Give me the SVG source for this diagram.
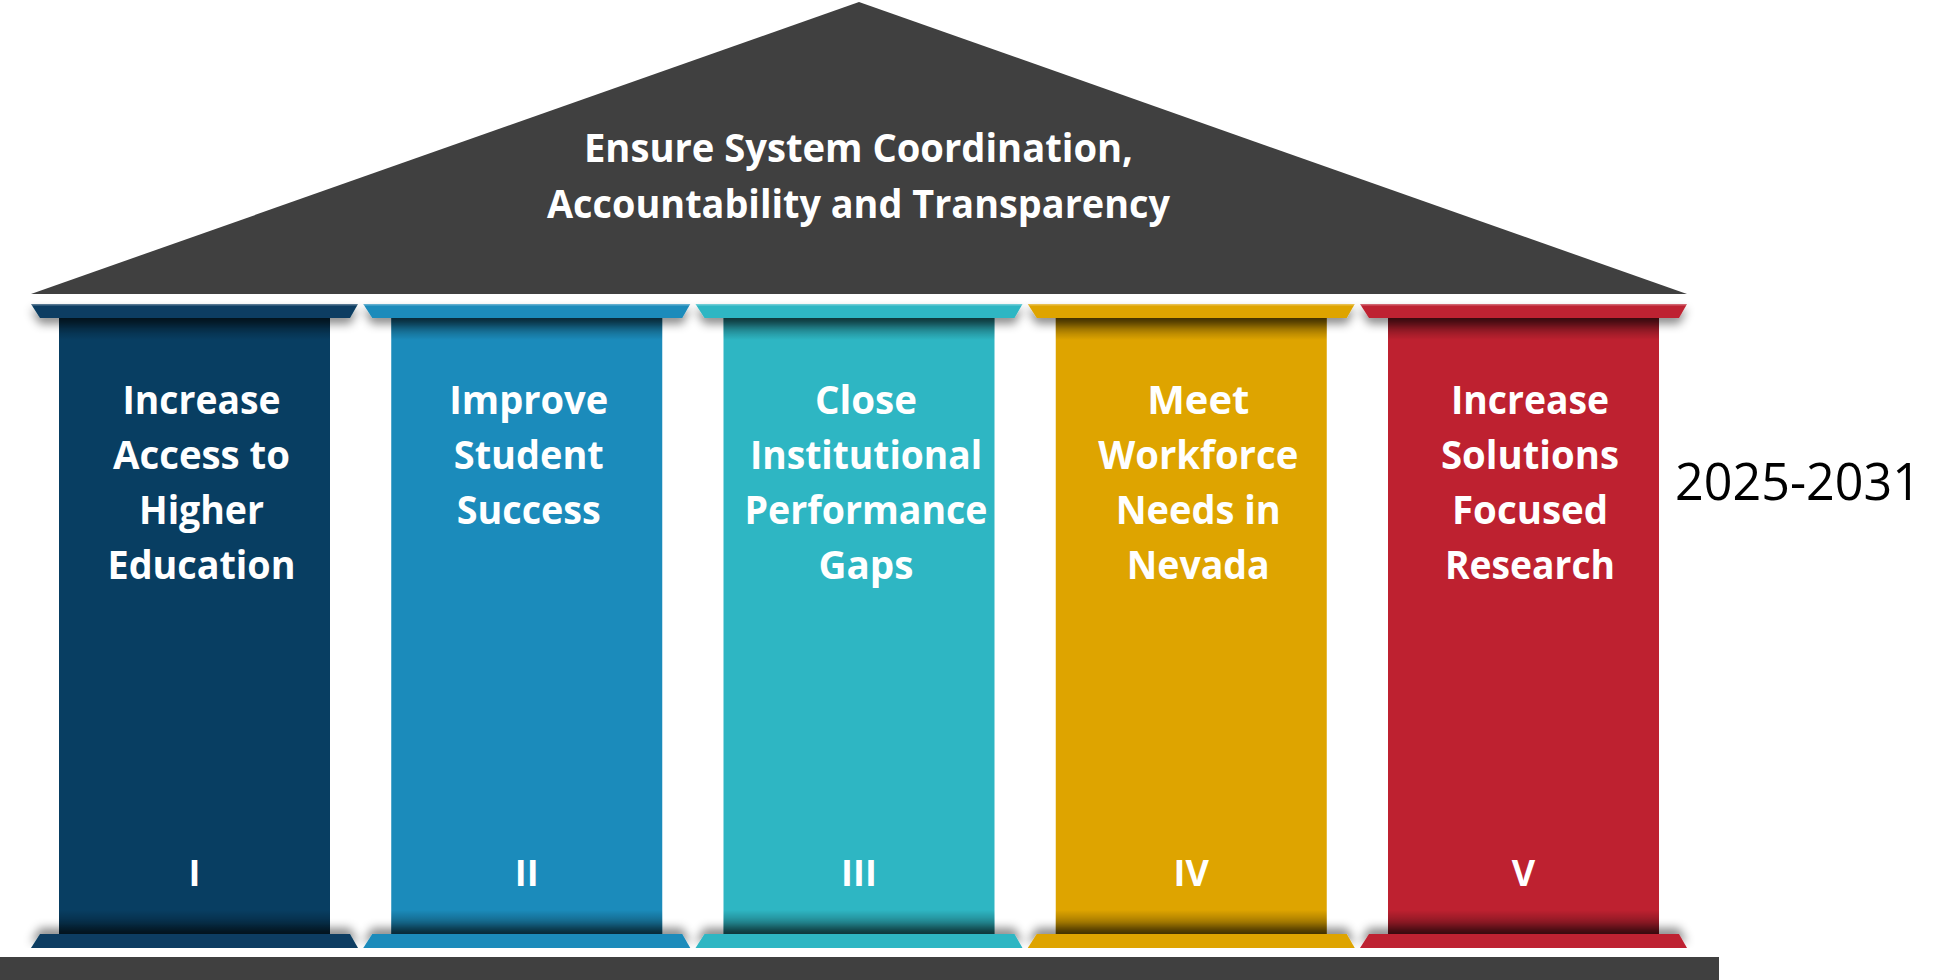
<svg xmlns="http://www.w3.org/2000/svg" width="1935" height="980" viewBox="0 0 1935 980">
<defs>
<style>
.t{font-family:"Open Sans","Noto Sans",sans-serif;font-weight:700;fill:#fff;text-anchor:middle}
.p{font-size:40px}
.n{font-size:36px}
.ttl{font-size:40px}
.yr{font-family:"Open Sans","Noto Sans",sans-serif;font-weight:400;font-size:52px;fill:#000}
.c1{fill:#083e62}.c2{fill:#1b8bbb}.c3{fill:#2eb6c3}.c4{fill:#dea400}.c5{fill:#be2130}
.hl{stroke:#fff;stroke-opacity:.3;stroke-width:1.5}
</style>
<linearGradient id="gTop" x1="0" y1="0" x2="0" y2="1">
<stop offset="0" stop-color="#000" stop-opacity=".5"/>
<stop offset="1" stop-color="#000" stop-opacity="0"/>
</linearGradient>
<linearGradient id="gBot" x1="0" y1="0" x2="0" y2="1">
<stop offset="0" stop-color="#000" stop-opacity="0"/>
<stop offset="1" stop-color="#000" stop-opacity=".5"/>
</linearGradient>
<filter id="shDown" x="-10%" y="-100%" width="120%" height="400%">
<feDropShadow dx="0" dy="6" stdDeviation="5" flood-color="#000" flood-opacity=".45"/>
</filter>
<filter id="shUp" x="-10%" y="-300%" width="120%" height="400%">
<feDropShadow dx="0" dy="-6" stdDeviation="5" flood-color="#000" flood-opacity=".45"/>
</filter>
</defs>
<rect width="1935" height="980" fill="#fff"/>

<g id="roof">
<polygon points="31,294 859,2 1687,294" fill="#404040"/>
<text class="t ttl" x="858.5" y="162" textLength="549" lengthAdjust="spacingAndGlyphs">Ensure System Coordination,</text>
<text class="t ttl" x="858.5" y="218" textLength="623" lengthAdjust="spacingAndGlyphs">Accountability and Transparency</text>
</g>

<g id="pillar1" transform="translate(31,0)">
<rect class="c1" x="28" y="318" width="271" height="616"/>
<rect x="28" y="318" width="271" height="22" fill="url(#gTop)"/>
<rect x="28" y="910" width="271" height="24" fill="url(#gBot)"/>
<polygon class="c1" points="0,304 327,304 319,318 9,318" filter="url(#shDown)"/>
<line class="hl" x1="0" y1="304.8" x2="327" y2="304.8"/>
<polygon class="c1" points="9,934 319,934 327,948 0,948" filter="url(#shUp)"/>
<text class="t p" x="170.5" y="414" textLength="158" lengthAdjust="spacingAndGlyphs">Increase</text>
<text class="t p" x="170.5" y="469" textLength="177" lengthAdjust="spacingAndGlyphs">Access to</text>
<text class="t p" x="170.5" y="524" textLength="125" lengthAdjust="spacingAndGlyphs">Higher</text>
<text class="t p" x="170.5" y="579" textLength="188" lengthAdjust="spacingAndGlyphs">Education</text>
<text class="t n" x="163.5" y="886">I</text>
</g>

<g id="pillar2" transform="translate(363.25,0)">
<rect class="c2" x="28" y="318" width="271" height="616"/>
<rect x="28" y="318" width="271" height="22" fill="url(#gTop)"/>
<rect x="28" y="910" width="271" height="24" fill="url(#gBot)"/>
<polygon class="c2" points="0,304 327,304 319,318 9,318" filter="url(#shDown)"/>
<line class="hl" x1="0" y1="304.8" x2="327" y2="304.8"/>
<polygon class="c2" points="9,934 319,934 327,948 0,948" filter="url(#shUp)"/>
<text class="t p" x="165.5" y="414" textLength="159" lengthAdjust="spacingAndGlyphs">Improve</text>
<text class="t p" x="165.5" y="469" textLength="150" lengthAdjust="spacingAndGlyphs">Student</text>
<text class="t p" x="165.5" y="524" textLength="144" lengthAdjust="spacingAndGlyphs">Success</text>
<text class="t n" x="163.5" y="886">II</text>
</g>

<g id="pillar3" transform="translate(695.5,0)">
<rect class="c3" x="28" y="318" width="271" height="616"/>
<rect x="28" y="318" width="271" height="22" fill="url(#gTop)"/>
<rect x="28" y="910" width="271" height="24" fill="url(#gBot)"/>
<polygon class="c3" points="0,304 327,304 319,318 9,318" filter="url(#shDown)"/>
<line class="hl" x1="0" y1="304.8" x2="327" y2="304.8"/>
<polygon class="c3" points="9,934 319,934 327,948 0,948" filter="url(#shUp)"/>
<text class="t p" x="170.5" y="414" textLength="102" lengthAdjust="spacingAndGlyphs">Close</text>
<text class="t p" x="170.5" y="469" textLength="232" lengthAdjust="spacingAndGlyphs">Institutional</text>
<text class="t p" x="170.5" y="524" textLength="243" lengthAdjust="spacingAndGlyphs">Performance</text>
<text class="t p" x="170.5" y="579" textLength="95" lengthAdjust="spacingAndGlyphs">Gaps</text>
<text class="t n" x="163.5" y="886">III</text>
</g>

<g id="pillar4" transform="translate(1027.75,0)">
<rect class="c4" x="28" y="318" width="271" height="616"/>
<rect x="28" y="318" width="271" height="22" fill="url(#gTop)"/>
<rect x="28" y="910" width="271" height="24" fill="url(#gBot)"/>
<polygon class="c4" points="0,304 327,304 319,318 9,318" filter="url(#shDown)"/>
<line class="hl" x1="0" y1="304.8" x2="327" y2="304.8"/>
<polygon class="c4" points="9,934 319,934 327,948 0,948" filter="url(#shUp)"/>
<text class="t p" x="170.5" y="414" textLength="102" lengthAdjust="spacingAndGlyphs">Meet</text>
<text class="t p" x="170.5" y="469" textLength="200" lengthAdjust="spacingAndGlyphs">Workforce</text>
<text class="t p" x="170.5" y="524" textLength="165" lengthAdjust="spacingAndGlyphs">Needs in</text>
<text class="t p" x="170.5" y="579" textLength="143" lengthAdjust="spacingAndGlyphs">Nevada</text>
<text class="t n" x="163.5" y="886">IV</text>
</g>

<g id="pillar5" transform="translate(1360,0)">
<rect class="c5" x="28" y="318" width="271" height="616"/>
<rect x="28" y="318" width="271" height="22" fill="url(#gTop)"/>
<rect x="28" y="910" width="271" height="24" fill="url(#gBot)"/>
<polygon class="c5" points="0,304 327,304 319,318 9,318" filter="url(#shDown)"/>
<line class="hl" x1="0" y1="304.8" x2="327" y2="304.8"/>
<polygon class="c5" points="9,934 319,934 327,948 0,948" filter="url(#shUp)"/>
<text class="t p" x="170" y="414" textLength="158" lengthAdjust="spacingAndGlyphs">Increase</text>
<text class="t p" x="170" y="469" textLength="178" lengthAdjust="spacingAndGlyphs">Solutions</text>
<text class="t p" x="170" y="524" textLength="156" lengthAdjust="spacingAndGlyphs">Focused</text>
<text class="t p" x="170" y="579" textLength="170" lengthAdjust="spacingAndGlyphs">Research</text>
<text class="t n" x="163.5" y="886">V</text>
</g>

<g id="floor">
<rect x="0" y="957" width="1719" height="23" fill="#404040"/>
</g>

<g id="years">
<text class="yr" x="1675" y="500" textLength="246" lengthAdjust="spacingAndGlyphs">2025-2031</text>
</g>
</svg>
